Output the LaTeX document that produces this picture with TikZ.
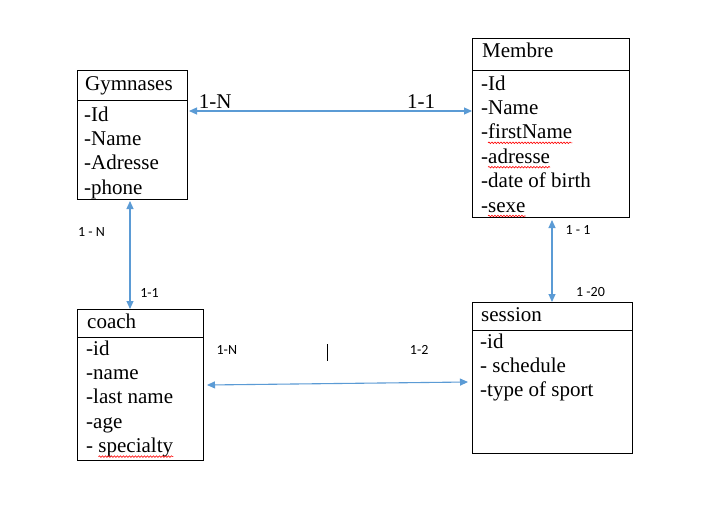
\documentclass[tikz,border=0pt]{standalone}
\usepackage{fontspec}
\setmainfont{Liberation Serif}
\newfontfamily\cardfont{Carlito}
\usetikzlibrary{arrows.meta,calc,decorations.pathmorphing}
\definecolor{linkblue}{RGB}{91,155,213}
\tikzset{
  entity/.style={
    rectangle,
    draw=black,
    line width=1pt,
    anchor=north west,
    inner sep=0pt
  },
  sepline/.style={draw=black, line width=1pt},
  title/.style={anchor=base west, inner sep=0pt, font=\fontsize{21}{24}\selectfont},
  attr/.style={anchor=base west, inner sep=0pt, font=\fontsize{21}{24}\selectfont},
  mult/.style={anchor=base, inner sep=0pt, text=black, font=\fontsize{21}{24}\selectfont},
  card/.style={anchor=base, inner sep=0pt, text=black, font=\cardfont\fontsize{14}{16}\selectfont},
  link/.style={{Triangle[length=8pt,width=7pt]}-{Triangle[length=8pt,width=7pt]}, line width=1.1pt, linkblue},
  spell/.style={draw=red, line width=0.6pt, decorate,
    decoration={snake, segment length=3pt, amplitude=0.8pt}}
}
\begin{document}
\begin{tikzpicture}[x=1pt,y=-1pt]
\useasboundingbox[fill=white] (0,0) rectangle (720,506);

% Gymnases
\node[entity, minimum width=110pt, minimum height=129pt] (gym) at (77,70) {};
\draw[sepline] ($(gym.north west)+(0,30)$) -- ($(gym.north east)+(0,30)$);
\node[title] (gymname) at ($(gym.north west)+(8,20)$) {Gymnases};
\foreach \a [count=\i] in {-Id,-Name,-Adresse,-phone}
  \node[attr] (gym-\i) at ($(gym.north west)+(7,26.6+24.4*\i)$) {\a};

% Membre
\node[entity, minimum width=157pt, minimum height=179pt] (mem) at (472,38) {};
\draw[sepline] ($(mem.north west)+(0,32)$) -- ($(mem.north east)+(0,32)$);
\node[title] (memname) at ($(mem.north west)+(10,19)$) {Membre};
\foreach \a [count=\i] in {-Id,-Name,-firstName,-adresse,-date of birth,-sexe}
  \node[attr] (mem-\i) at ($(mem.north west)+(9,27.6+24.4*\i)$) {\a};
\draw[spell] ($(mem-3.base west)+(7,4)$) -- ($(mem-3.base east)+(0,4)$);
\draw[spell] ($(mem-4.base west)+(7,4)$) -- ($(mem-4.base east)+(0,4)$);
\draw[spell] ($(mem-6.base west)+(7,4)$) -- ($(mem-6.base east)+(0,4)$);

% coach
\node[entity, minimum width=126pt, minimum height=151pt] (coach) at (77,309) {};
\draw[sepline] ($(coach.north west)+(0,28)$) -- ($(coach.north east)+(0,28)$);
\node[title] (coachname) at ($(coach.north west)+(10,19)$) {coach};
\foreach \a [count=\i] in {-id,-name,-last name,-age,- specialty}
  \node[attr] (coach-\i) at ($(coach.north west)+(9,21.6+24.4*\i)$) {\a};
\draw[spell] ($(coach-5.base west)+(12.5,4)$) -- ($(coach-5.base east)+(0,4)$);

% session
\node[entity, minimum width=160pt, minimum height=151pt] (ses) at (472,302) {};
\draw[sepline] ($(ses.north west)+(0,28)$) -- ($(ses.north east)+(0,28)$);
\node[title] (sesname) at ($(ses.north west)+(9,19)$) {session};
\foreach \a [count=\i] in {-id,- schedule,-type of sport}
  \node[attr] (ses-\i) at ($(ses.north west)+(8,21.6+24.4*\i)$) {\a};

% associations
\coordinate (gm) at ($(gym.north east)+(1,41)$);
\draw[link] (gm) -- (gm -| mem.west)
  node[mult, pos=.093, yshift=3pt] {1-N}
  node[mult, pos=.82, yshift=3pt] {1-1};

\coordinate (gc) at ($(gym.south west)+(53,1)$);
\draw[link] (gc) -- (gc |- coach.north)
  node[card, pos=.33, xshift=-38.5pt] {1 - N}
  node[card, pos=.89, xshift=19.5pt] {1-1};

\coordinate (ms) at ($(mem.south west)+(80,2)$);
\draw[link] (ms) -- (ms |- ses.north)
  node[card, pos=.18, xshift=26pt] {1 - 1}
  node[card, pos=.93, xshift=38.5pt] {1 -20};

\coordinate (cs1) at ($(coach.north east)+(3,76)$);
\coordinate (cs2) at ($(ses.north west)+(-4,80)$);
\draw[link] (cs1) -- (cs2)
  node[card, pos=.076, yshift=29.8pt] {1-N}
  node[card, pos=.813, yshift=27.6pt] {1-2};
\draw[line width=0.8pt] (327,344) -- (327,361);
\end{tikzpicture}
\end{document}
